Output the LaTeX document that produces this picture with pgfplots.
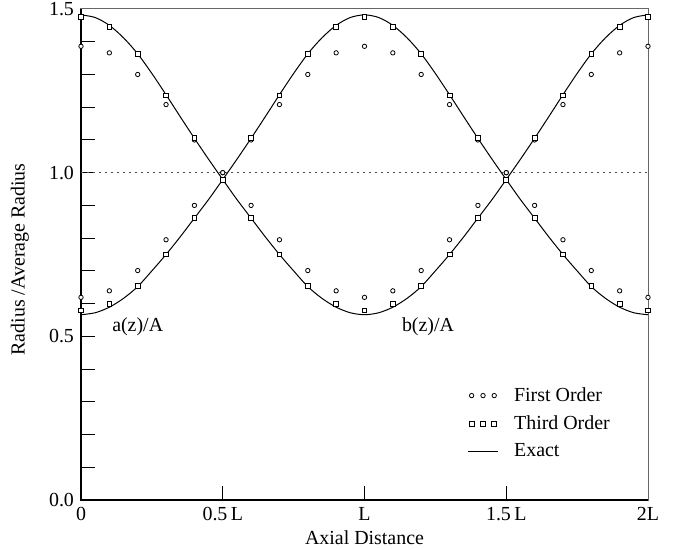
\documentclass[border=0pt]{standalone}
\usepackage{fontspec}
\setmainfont{Liberation Serif}
\usepackage{pgfplots}
\pgfplotsset{compat=1.18}

\begin{document}
\fontsize{10}{12}\selectfont
\begin{tikzpicture}
  \useasboundingbox (-40.5bp,-25bp) rectangle (301.5bp,250bp);
  \begin{axis}[
    at={(0,0)}, anchor=south west,
    scale only axis,
    width=283.5bp, height=245.5bp,
    xmin=0, xmax=2, ymin=0, ymax=1.5,
    xtick={0,0.5,1,1.5,2},
    xticklabels={0, 0.5\,L, L, 1.5\,L, 2L},
    ytick={0,0.5,1,1.5},
    minor y tick num=4,
    xtick pos=left, ytick pos=left,
    tick align=inside,
    major tick length=7bp, minor tick length=7bp,
    tick style={line width=0.5bp, black},
    /pgf/number format/assume math mode=true,
    yticklabel style={/pgf/number format/.cd, fixed, fixed zerofill, precision=1},
    axis line style={line width=0.5bp, black!60},
    xlabel={Axial Distance},
    ylabel={Radius /Average Radius},
    xlabel style={at={(axis description cs:0.5,-0.077)}, anchor=center},
    ylabel style={at={(axis description cs:-0.108,0.49)}, anchor=center},
    clip=false,
    legend style={at={(axis cs:1.362,0.363)}, anchor=north west,
      draw=none, fill=none, inner sep=0pt, row sep=0pt, column sep=5bp,
      nodes={inner sep=2.8bp}},
    legend cell align=left,
  ]
    % heavier bottom and left axis lines
    \draw[line width=0.9bp, black] (rel axis cs:0,1) -- (rel axis cs:0,0) -- (rel axis cs:1,0);

    % dotted reference line at 1.0
    \addplot[forget plot, black!70, line width=0.5bp, dash pattern=on 1bp off 2bp]
      coordinates {(0,1) (2,1)};

    % exact solution, curve starting high
    \addplot[forget plot, black, line width=0.5bp, smooth, tension=0.5] coordinates {
      (0,1.482)(0.05,1.474)(0.1,1.450)(0.15,1.412)(0.2,1.363)(0.25,1.303)(0.3,1.238)
      (0.35,1.171)(0.4,1.105)(0.45,1.041)(0.5,0.979)(0.55,0.918)(0.6,0.861)(0.65,0.804)
      (0.7,0.750)(0.75,0.700)(0.8,0.652)(0.85,0.616)(0.9,0.589)(0.95,0.572)(1,0.566)
      (1.05,0.572)(1.1,0.589)(1.15,0.616)(1.2,0.652)(1.25,0.700)(1.3,0.750)(1.35,0.804)
      (1.4,0.861)(1.45,0.918)(1.5,0.979)(1.55,1.041)(1.6,1.105)(1.65,1.171)(1.7,1.238)
      (1.75,1.303)(1.8,1.363)(1.85,1.412)(1.9,1.450)(1.95,1.474)(2,1.482)};
    % exact solution, curve starting low
    \addplot[forget plot, black, line width=0.5bp, smooth, tension=0.5] coordinates {
      (0,0.566)(0.05,0.572)(0.1,0.589)(0.15,0.616)(0.2,0.652)(0.25,0.700)(0.3,0.750)
      (0.35,0.804)(0.4,0.861)(0.45,0.918)(0.5,0.979)(0.55,1.041)(0.6,1.105)(0.65,1.171)
      (0.7,1.238)(0.75,1.303)(0.8,1.363)(0.85,1.412)(0.9,1.450)(0.95,1.474)(1,1.482)
      (1.05,1.474)(1.1,1.450)(1.15,1.412)(1.2,1.363)(1.25,1.303)(1.3,1.238)(1.35,1.171)
      (1.4,1.105)(1.45,1.041)(1.5,0.979)(1.55,0.918)(1.6,0.861)(1.65,0.804)(1.7,0.750)
      (1.75,0.700)(1.8,0.652)(1.85,0.616)(1.9,0.589)(1.95,0.572)(2,0.566)};

    % first order (circles)
    \addplot[only marks, mark=*, mark size=1.1bp, mark options={fill=white, draw=black, line width=0.4bp},
      legend image code/.code={\path[mark=*, mark size=1.1bp, mark options={fill=white, draw=black, line width=0.4bp}]
        plot coordinates {(1.8bp,0bp) (7.5bp,0bp) (13.1bp,0bp)};}]
      coordinates {
      (0,1.386)(0.1,1.366)(0.2,1.300)(0.3,1.208)(0.4,1.100)(0.5,1.000)(0.6,0.900)
      (0.7,0.795)(0.8,0.701)(0.9,0.639)(1,0.619)(1.1,0.639)(1.2,0.701)(1.3,0.795)
      (1.4,0.900)(1.5,1.000)(1.6,1.100)(1.7,1.208)(1.8,1.300)(1.9,1.366)(2,1.386)};
    \addlegendentry{First Order}
    \addplot[forget plot, only marks, mark=*, mark size=1.1bp, mark options={fill=white, draw=black, line width=0.4bp}]
      coordinates {
      (0,0.619)(0.1,0.639)(0.2,0.701)(0.3,0.795)(0.4,0.900)(0.5,1.000)(0.6,1.100)
      (0.7,1.208)(0.8,1.300)(0.9,1.366)(1,1.386)(1.1,1.366)(1.2,1.300)(1.3,1.208)
      (1.4,1.100)(1.5,1.000)(1.6,0.900)(1.7,0.795)(1.8,0.701)(1.9,0.639)(2,0.619)};

    % third order (squares)
    \addplot[only marks, mark=square*, mark size=1.2bp, mark options={fill=white, draw=black, line width=0.4bp},
      legend image code/.code={\path[mark=square*, mark size=1.2bp, mark options={fill=white, draw=black, line width=0.4bp}]
        plot coordinates {(1.8bp,0bp) (7.5bp,0bp) (13.1bp,0bp)};}]
      coordinates {
      (0,1.476)(0.1,1.445)(0.2,1.363)(0.3,1.236)(0.4,1.105)(0.5,0.979)(0.6,0.861)
      (0.7,0.750)(0.8,0.655)(0.9,0.598)(1,0.579)(1.1,0.598)(1.2,0.655)(1.3,0.750)
      (1.4,0.861)(1.5,0.979)(1.6,1.105)(1.7,1.236)(1.8,1.363)(1.9,1.445)(2,1.476)};
    \addlegendentry{Third Order}
    \addplot[forget plot, only marks, mark=square*, mark size=1.2bp, mark options={fill=white, draw=black, line width=0.4bp}]
      coordinates {
      (0,0.579)(0.1,0.598)(0.2,0.655)(0.3,0.750)(0.4,0.861)(0.5,0.979)(0.6,1.105)
      (0.7,1.236)(0.8,1.363)(0.9,1.445)(1,1.476)(1.1,1.445)(1.2,1.363)(1.3,1.236)
      (1.4,1.105)(1.5,0.979)(1.6,0.861)(1.7,0.750)(1.8,0.655)(1.9,0.598)(2,0.579)};

    \addlegendimage{legend image code/.code={\draw[black, line width=0.5bp] (0bp,0bp) -- (15bp,0bp);}}
    \addlegendentry{Exact}

    \node at (axis cs:0.2,0.529) {a(z)/A};
    \node at (axis cs:1.224,0.529) {b(z)/A};
  \end{axis}
\end{tikzpicture}
\end{document}
